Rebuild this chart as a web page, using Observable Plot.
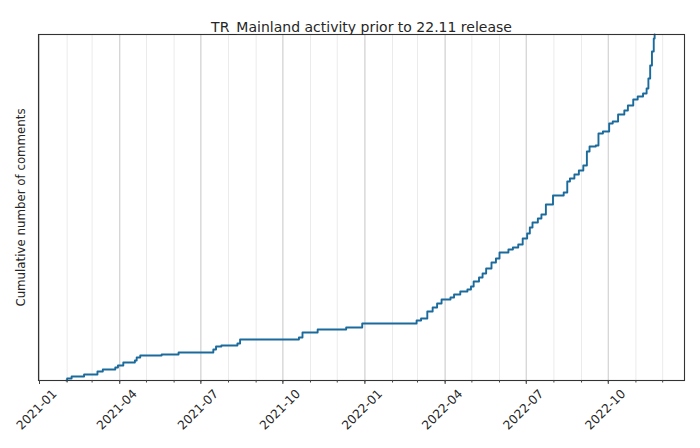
<!DOCTYPE html>
<html>
<head>
<meta charset="utf-8">
<script src="https://cdn.jsdelivr.net/npm/d3@7"></script>
<script src="https://cdn.jsdelivr.net/npm/@observablehq/plot@0.6"></script>
<style>
  html, body { margin: 0; padding: 0; background: #fff; }
  #chart svg { display: block; font-family: "DejaVu Sans", sans-serif; }
</style>
</head>
<body>
<div id="chart"></div>
<script>
const title = "TR_Mainland activity prior to 22.11 release";
const yLabel = "Cumulative number of comments";

// dates at which the cumulative count stepped up
const dates = [
  "2021-01-31","2021-02-01","2021-02-06","2021-02-20","2021-03-07","2021-03-13",
  "2021-03-27","2021-03-30","2021-04-05","2021-04-18","2021-04-20","2021-04-24",
  "2021-05-18","2021-06-06","2021-07-15","2021-07-18","2021-07-24","2021-08-11",
  "2021-08-14","2021-10-19","2021-10-23","2021-11-09","2021-12-11","2021-12-29",
  "2022-02-28","2022-03-05","2022-03-12","2022-03-18","2022-03-23","2022-03-28",
  "2022-04-07","2022-04-11","2022-04-18","2022-04-26","2022-04-30","2022-05-03",
  "2022-05-09","2022-05-13","2022-05-17","2022-05-23","2022-05-28","2022-06-01",
  "2022-06-11","2022-06-16","2022-06-22","2022-06-27","2022-07-02","2022-07-05",
  "2022-07-08","2022-07-14","2022-07-18","2022-07-23","2022-07-31","2022-08-12",
  "2022-08-16","2022-08-19","2022-08-24","2022-08-29","2022-09-03","2022-09-07",
  "2022-09-10","2022-09-17","2022-09-20","2022-09-25","2022-10-02","2022-10-06",
  "2022-10-12","2022-10-19","2022-10-23","2022-10-29","2022-11-03","2022-11-09",
  "2022-11-13","2022-11-15","2022-11-17","2022-11-19","2022-11-21","2022-11-22"
];
// cumulative number of comments at each date
const counts = [
  0, 2, 4, 6, 9, 11,
  13, 15, 18, 20, 23, 25,
  26, 28, 31, 34, 35, 37,
  41, 43, 48, 51, 53, 57,
  60, 62, 69, 73, 77, 81,
  83, 86, 89, 91, 94, 99,
  103, 107, 112, 118, 122, 128,
  131, 133, 136, 142, 147, 153,
  158, 162, 166, 176, 185, 188,
  199, 202, 206, 210, 215, 229,
  234, 235, 247, 249, 257, 259,
  266, 270, 275, 281, 284, 287,
  292, 302, 315, 329, 342, 346
];
const tickLabels = ["2021-01","2021-04","2021-07","2021-10","2022-01","2022-04","2022-07","2022-10"];

const data = dates.map((d, i) => ({date: new Date(d + "T00:00:00Z"), count: counts[i]}));
const xDomain = [new Date("2020-12-30T21:00:00Z"), new Date("2022-12-25T12:00:00Z")];
const majorTicks = tickLabels.map(s => new Date(s + "-01T00:00:00Z"));
const minorTicks = d3.utcMonth.range(xDomain[0], xDomain[1]);
const yMax = d3.max(counts);

const chart = Plot.plot({
  width: 700,
  height: 448,
  marginLeft: 38,
  marginRight: 16,
  marginTop: 34,
  marginBottom: 68,
  style: {fontFamily: "DejaVu Sans, sans-serif", background: "#fff"},
  x: {type: "utc", domain: xDomain},
  y: {domain: [0, yMax], axis: null},
  marks: [
    Plot.ruleX(minorTicks, {stroke: "#ebebeb", strokeWidth: 1}),
    Plot.ruleX(majorTicks, {stroke: "#cfcfcf", strokeWidth: 1}),
    Plot.lineY(data, {x: "date", y: "count", curve: "step-after", stroke: "#1b6a9c", strokeWidth: 1.9}),
    Plot.frame({stroke: "#333", strokeWidth: 1.1}),
    Plot.axisX({ticks: minorTicks, tickSize: 2.5, tickFormat: () => "", label: null, stroke: "#444"}),
    Plot.axisX({ticks: majorTicks, tickSize: 4, tickFormat: () => "", label: null, stroke: "#444"}),
    Plot.text(majorTicks, {x: d => d, text: (d, i) => tickLabels[i], frameAnchor: "bottom", dy: 32, rotate: -45, textAnchor: "middle", fontSize: 12.2, fill: "#262626"}),
    Plot.text([title], {frameAnchor: "top", dy: -12, text: d => d, fontSize: 14, fill: "#262626"}),
    Plot.text([yLabel], {frameAnchor: "left", dx: -17, rotate: -90, textAnchor: "middle", text: d => d, fontSize: 11.8, fill: "#262626"})
  ]
});
document.getElementById("chart").appendChild(chart);
</script>
</body>
</html>
